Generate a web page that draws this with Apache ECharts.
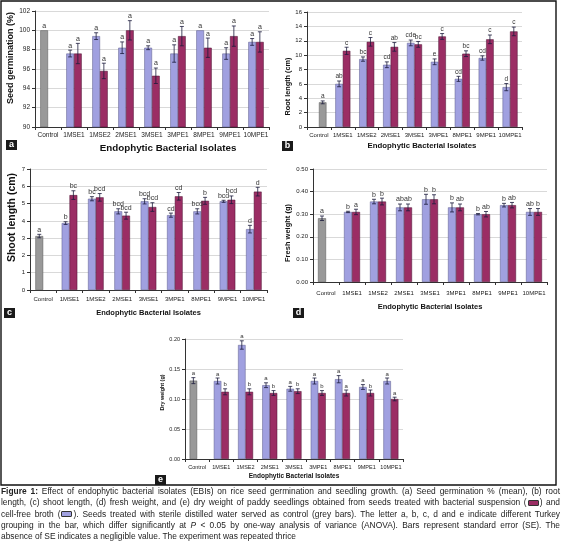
<!DOCTYPE html>
<html><head><meta charset="utf-8">
<script src="https://cdn.jsdelivr.net/npm/echarts@6/dist/echarts.min.js"></script>
<style>
body{margin:0;background:#fff;}
#chart{position:absolute;left:0;top:0;width:562px;height:548px;}
#cap{position:absolute;left:1px;top:486px;width:559px;font-family:'Liberation Sans',Arial,sans-serif;font-size:8.4px;line-height:11.25px;color:#222;}
#cap div{text-align:justify;text-align-last:justify;white-space:nowrap;}
#cap div.last{text-align-last:left;}
.sw{display:inline-block;width:9px;height:4px;border:0.8px solid #333;border-radius:1px;vertical-align:middle;margin:0 1px;}
</style></head><body>
<div id="chart"></div>
<div id="cap">
<div><b>Figure 1:</b> Effect of endophytic bacterial isolates (EBIs) on rice seed germination and seedling growth. (a) Seed germination % (mean), (b) root</div>
<div>length, (c) shoot length, (d) fresh weight, and (e) dry weight of paddy seedlings obtained from seeds treated with bacterial suspension (<span class="sw" style="background:#9b2d64"></span>) and</div>
<div>cell-free broth (<span class="sw" style="background:#a0a0e0"></span>). Seeds treated with sterile distilled water served as control (grey bars). The letter a, b, c, d and e indicate different Turkey</div>
<div>grouping in the bar, which differ significantly at <i>P</i> &lt; 0.05 by one-way analysis of variance (ANOVA). Bars represent standard error (SE). The</div>
<div class="last">absence of SE indicates a negligible value. The experiment was repeated thrice</div>
</div>
<script>
// ---------- data ----------
const categories = ['Control','1MSE1','1MSE2','2MSE1','3MSE1','3MPE1','8MPE1','9MPE1','10MPE1'];
const xTitle = 'Endophytic Bacterial Isolates';

// (a) Seed germination (%)
const germControl = 100, germControlSE = 0, germControlGrp = 'a';
const germBroth   = [97.6, 99.4, 98.2, 98.2, 97.6, 100, 97.6, 98.8];
const germBrothSE = [0.35, 0.35, 0.6, 0.2, 0.9, 0, 0.6, 0.35];
const germBrothGrp = ['a','a','a','a','a','a','a','a'];
const germSusp    = [97.6, 95.8, 100, 95.3, 99.4, 98.2, 99.4, 98.8];
const germSuspSE  = [1.05, 0.8, 1.0, 0.8, 1.0, 1.0, 1.05, 1.05];
const germSuspGrp = ['a','a','a','a','a','a','a','a'];

// (b) Root length (cm)
const rootControl = 3.43, rootControlSE = 0.2, rootControlGrp = 'a';
const rootBroth   = [6.0, 9.45, 8.66, 11.7, 9.07, 6.7, 9.6, 5.55];
const rootBrothSE = [0.4, 0.3, 0.4, 0.4, 0.4, 0.35, 0.3, 0.5];
const rootBrothGrp = ['ab','bc','cd','cde','e','cd','cd','d'];
const rootSusp    = [10.6, 11.85, 11.15, 11.5, 12.6, 10.2, 12.2, 13.3];
const rootSuspSE  = [0.5, 0.6, 0.6, 0.4, 0.4, 0.4, 0.6, 0.6];
const rootSuspGrp = ['c','c','ab','bc','c','bc','c','c'];

// (c) Shoot length (cm)
const shootControl = 3.12, shootControlSE = 0.1, shootControlGrp = 'a';
const shootBroth   = [3.87, 5.28, 4.55, 5.13, 4.33, 4.55, 5.13, 3.52];
const shootBrothSE = [0.08, 0.12, 0.15, 0.15, 0.12, 0.15, 0.06, 0.22];
const shootBrothGrp = ['b','bc','bcd','bcd','cd','bcd','bcd','d'];
const shootSusp    = [5.49, 5.36, 4.3, 4.8, 5.42, 5.16, 5.22, 5.69];
const shootSuspSE  = [0.25, 0.22, 0.2, 0.25, 0.22, 0.2, 0.22, 0.25];
const shootSuspGrp = ['bc','bcd','bcd','bcd','cd','b','bcd','d'];

// (d) Fresh weight (g)
const freshControl = 0.282, freshControlSE = 0.01, freshControlGrp = 'a';
const freshBroth   = [0.31, 0.356, 0.33, 0.366, 0.33, 0.30, 0.34, 0.31];
const freshBrothSE = [0.003, 0.01, 0.015, 0.022, 0.02, 0.003, 0.008, 0.015];
const freshBrothGrp = ['b','b','ab','b','b','b','b','ab'];
const freshSusp    = [0.31, 0.356, 0.33, 0.366, 0.33, 0.30, 0.34, 0.31];
const freshSuspSE  = [0.012, 0.015, 0.015, 0.02, 0.015, 0.012, 0.012, 0.015];
const freshSuspGrp = ['a','b','ab','b','ab','ab','ab','b'];

// (e) Dry weight (g)
const dryControl = 0.1306, dryControlSE = 0.005, dryControlGrp = 'a';
const dryBroth   = [0.13, 0.19, 0.123, 0.117, 0.13, 0.133, 0.12, 0.13];
const dryBrothSE = [0.005, 0.007, 0.004, 0.004, 0.005, 0.006, 0.004, 0.005];
const dryBrothGrp = ['a','a','a','a','a','a','a','a'];
const drySusp    = [0.112, 0.112, 0.11, 0.113, 0.11, 0.11, 0.11, 0.10];
const drySuspSE  = [0.005, 0.005, 0.004, 0.004, 0.004, 0.005, 0.005, 0.003];
const drySuspGrp = ['b','b','b','b','b','a','b','a'];

// ---------- styles / layout ----------
const COL_BROTH = '#a0a0e0', COL_SUSP = '#9b2d64', COL_CTRL = '#999999';
const FONT = "'Liberation Sans', Arial, sans-serif";

const panels = [
  {letter:'a', box:[6,140], grid:{left:35,top:11,width:234,height:116}, min:90,max:102,interval:2,dec:0,
   yname:'Seed germination (%)', ynameSize:9, ynameGap:17, ynamePad:[0,0,0,22],
   xnameSize:9.8, xnameGap:16, xnamePad:[0,0,0,32], tick:6.5, xMargin:5, barW:7.7, ctrlSlot:-1, grpSize:7,
   d:[germControl,germControlSE,germControlGrp,germBroth,germBrothSE,germBrothGrp,germSusp,germSuspSE,germSuspGrp]},
  {letter:'b', box:[282,141], grid:{left:307,top:12,width:215,height:115}, min:0,max:16,interval:2,dec:0,
   yname:'Root length (cm)', ynameSize:7.3, ynameGap:13, ynamePad:[0,34,0,0],
   xnameSize:7.8, xnameGap:15, xnamePad:[0,0,0,15], tick:6, xMargin:5, barW:7.5, ctrlSlot:1, grpSize:6.5,
   d:[rootControl,rootControlSE,rootControlGrp,rootBroth,rootBrothSE,rootBrothGrp,rootSusp,rootSuspSE,rootSuspGrp]},
  {letter:'c', box:[4,308], grid:{left:30,top:169,width:237,height:121}, min:0,max:7,interval:1,dec:0,
   yname:'Shoot length (cm)', ynameSize:10.5, ynameGap:12, ynamePad:[0,0,0,24],
   xnameSize:7.5, xnameGap:19, xnamePad:0, tick:6, xMargin:6, barW:7.8, ctrlSlot:-1, grpSize:7,
   d:[shootControl,shootControlSE,shootControlGrp,shootBroth,shootBrothSE,shootBrothGrp,shootSusp,shootSuspSE,shootSuspGrp]},
  {letter:'d', box:[293,308], grid:{left:313,top:169,width:234,height:113}, min:0,max:0.5,interval:0.1,dec:2,
   yname:'Fresh weight (g)', ynameSize:7.5, ynameGap:15, ynamePad:[0,15,0,0],
   xnameSize:7.5, xnameGap:21, xnamePad:0, tick:6, xMargin:8, barW:8, ctrlSlot:-1, grpSize:7,
   d:[freshControl,freshControlSE,freshControlGrp,freshBroth,freshBrothSE,freshBrothGrp,freshSusp,freshSuspSE,freshSuspGrp]},
  {letter:'e', box:[155,475], grid:{left:185,top:339,width:218,height:120}, min:0,max:0.2,interval:0.05,dec:2,
   yname:'Dry weight (g)', ynameSize:5.4, ynameGap:18, ynamePad:[0,0,0,13],
   xnameSize:6.5, xnameGap:14, xnamePad:0, tick:5.5, xMargin:5, barW:7.5, ctrlSlot:-1, grpSize:6,
   d:[dryControl,dryControlSE,dryControlGrp,dryBroth,dryBrothSE,dryBrothGrp,drySusp,drySuspSE,drySuspGrp]}
];

const grids = [], xAxes = [], yAxes = [], series = [], graphics = [];

panels.forEach((p, i) => {
  const [cv, cse, cg, bv, bse, bg, sv, sse, sg] = p.d;
  grids.push(Object.assign({containLabel:false}, p.grid));
  xAxes.push({
    type:'category', gridIndex:i, data:categories,
    axisLine:{lineStyle:{color:'#333', width:1}},
    axisTick:{show:true, alignWithLabel:false, length:3, lineStyle:{color:'#333'}},
    axisLabel:{interval:0, fontSize:p.tick, color:'#222', margin:p.xMargin, fontFamily:FONT},
    splitLine:{show:false},
    name:xTitle, nameLocation:'middle', nameGap:p.xnameGap,
    nameTextStyle:{fontSize:p.xnameSize, fontWeight:'bold', color:'#111', fontFamily:FONT, padding:p.xnamePad}
  });
  yAxes.push({
    type:'value', gridIndex:i, min:p.min, max:p.max, interval:p.interval,
    axisLine:{show:true, lineStyle:{color:'#333', width:1}},
    axisTick:{show:true, length:3, lineStyle:{color:'#333'}},
    axisLabel:{fontSize:p.tick, color:'#222', margin:5, fontFamily:FONT,
      formatter:v => v.toFixed(p.dec)},
    splitLine:{show:true, lineStyle:{color:'#d9d9d9', width:1}},
    name:p.yname, nameLocation:'middle', nameGap:p.ynameGap,
    nameTextStyle:{fontSize:p.ynameSize, fontWeight:'bold', color:'#111', fontFamily:FONT, padding:p.ynamePad}
  });
  const ctrlItem = {value:cv, itemStyle:{color:COL_CTRL, borderColor:'#555'}};
  const brothData = [p.ctrlSlot === -1 ? ctrlItem : '-'].concat(bv);
  const suspData  = [p.ctrlSlot === 1 ? ctrlItem : '-'].concat(sv);
  series.push({
    type:'bar', name:'Cell-free broth', xAxisIndex:i, yAxisIndex:i, data:brothData,
    barWidth:p.barW, barGap:'0%',
    itemStyle:{color:COL_BROTH, borderColor:'#5a5a8a', borderWidth:0.5}
  });
  series.push({
    type:'bar', name:'Bacterial suspension', xAxisIndex:i, yAxisIndex:i, data:suspData,
    barWidth:p.barW, barGap:'0%',
    itemStyle:{color:COL_SUSP, borderColor:'#4a1030', borderWidth:0.5}
  });
  const items = [{x:0, v:cv, se:cse, g:cg, slot:p.ctrlSlot}];
  bv.forEach((v, j) => items.push({x:j+1, v:v, se:bse[j], g:bg[j], slot:-1}));
  sv.forEach((v, j) => items.push({x:j+1, v:v, se:sse[j], g:sg[j], slot:1}));
  series.push({
    type:'custom', xAxisIndex:i, yAxisIndex:i, z:5, clip:false,
    data:items.map(it => [it.x, it.v]),
    encode:{x:0, y:1},
    renderItem:(params, api) => {
      const it = items[params.dataIndex];
      const c = api.coord([it.x, it.v]);
      const cx = c[0] + it.slot * p.barW / 2;
      const yTop = api.coord([it.x, it.v + it.se])[1];
      const yBot = api.coord([it.x, it.v - it.se])[1];
      const ch = [];
      if (it.se > 0) {
        const st = {stroke:'#1c1c3c', lineWidth:0.8};
        ch.push({type:'line', shape:{x1:cx, y1:yTop, x2:cx, y2:yBot}, style:st});
        ch.push({type:'line', shape:{x1:cx-2, y1:yTop, x2:cx+2, y2:yTop}, style:st});
        ch.push({type:'line', shape:{x1:cx-2, y1:yBot, x2:cx+2, y2:yBot}, style:st});
      }
      ch.push({type:'text', style:{text:it.g, x:cx, y:yTop - 1, textAlign:'center', textVerticalAlign:'bottom',
        fill:'#333', font:p.grpSize + 'px ' + FONT}});
      return {type:'group', children:ch};
    }
  });
  graphics.push({type:'rect', shape:{x:p.box[0], y:p.box[1], width:11, height:10}, style:{fill:'#1a1a1a'}});
  graphics.push({type:'text', style:{text:p.letter, x:p.box[0]+5.5, y:p.box[1]+5, textAlign:'center', textVerticalAlign:'middle',
    fill:'#fff', font:'bold 9px ' + FONT}});
});

graphics.push({type:'rect', shape:{x:1, y:1, width:555, height:484}, style:{fill:'none', stroke:'#111', lineWidth:1.4}, z:-1});

const chart = echarts.init(document.getElementById('chart'), null, {renderer:'canvas'});
chart.setOption({
  animation:false,
  textStyle:{fontFamily:FONT},
  grid:grids, xAxis:xAxes, yAxis:yAxes, series:series,
  graphic:{elements:graphics}
});
</script>
</body></html>
